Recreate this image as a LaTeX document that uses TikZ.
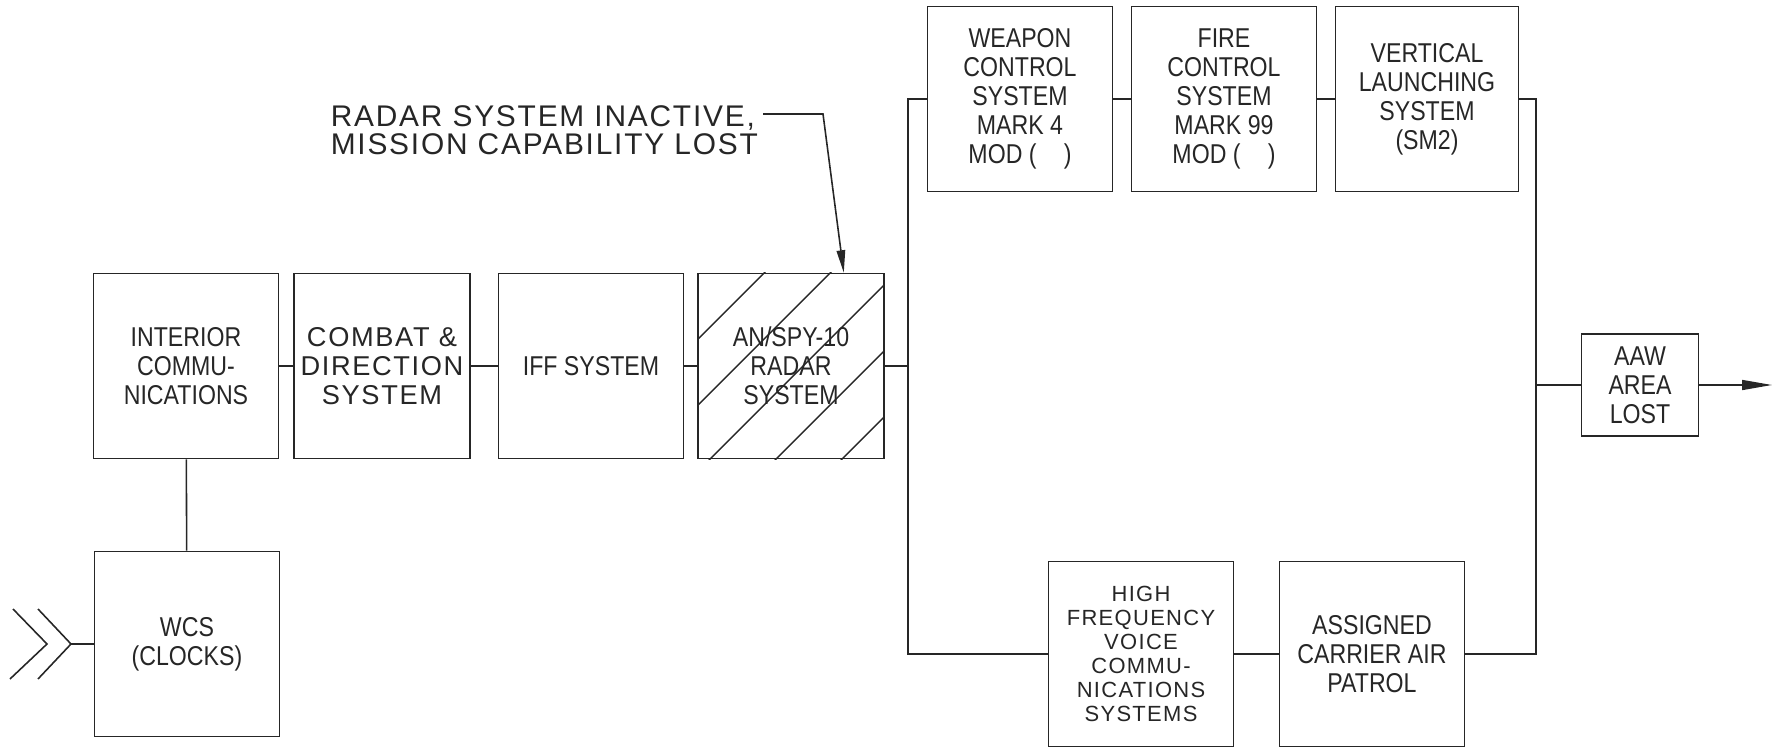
\documentclass[tikz,border=0pt]{standalone}
\usepackage{fontspec}
\setmainfont{Liberation Sans}[FakeStretch=0.85]
\newfontfamily\widefont{Liberation Sans}[LetterSpace=6]
\usetikzlibrary{arrows.meta}

\begin{document}
\begin{tikzpicture}[x=0.02cm, y=-0.02cm, line width=0.9pt, black!85,
  box/.style={draw, minimum width=3.7cm, minimum height=3.7cm, align=center, inner sep=2pt, font=\fontsize{15.5}{16.5}\selectfont},
  widebox/.style={box, font=\widefont\fontsize{15.5}{16.5}\selectfont},
  smallbox/.style={box, font=\widefont\fontsize{12.5}{13.6}\selectfont},
  note/.style={align=left, inner sep=0pt, font=\widefont\fontsize{17}{16}\selectfont},
  hatch/.style={line width=0.8pt},
  flow/.style={-{Triangle[length=0.6cm, width=0.2cm]}},
  pointer/.style={-{Triangle[length=0.45cm, width=0.17cm]}}
]
\useasboundingbox (0,0) rectangle (1775,753);

% main chain
\node[box] (interior) at (186,366) {INTERIOR\\COMMU-\\NICATIONS};
\node[widebox, minimum width=3.52cm] (combat) at (382,366) {COMBAT \&\\DIRECTION\\SYSTEM};
\node[box] (iff) at (591,366) {IFF SYSTEM};
\node[box, minimum width=3.72cm] (radar) at (791,366) {AN/SPY-10\\RADAR\\SYSTEM};
\node[box] (wcs) at (187,644) {WCS\\(CLOCKS)};

% weapon branch
\node[box] (weapon) at (1020,99) {WEAPON\\CONTROL\\SYSTEM\\MARK 4\\MOD (\quad)};
\node[box] (fire) at (1224,99) {FIRE\\CONTROL\\SYSTEM\\MARK 99\\MOD (\quad)};
\node[box, minimum width=3.66cm] (vls) at (1427,99) {VERTICAL\\LAUNCHING\\SYSTEM\\(SM2)};

% voice branch
\node[smallbox] (hf) at (1141,654) {HIGH\\FREQUENCY\\VOICE\\COMMU-\\NICATIONS\\SYSTEMS};
\node[box] (acap) at (1372,654) {ASSIGNED\\CARRIER AIR\\PATROL};

\node[box, minimum width=2.34cm, minimum height=2.04cm] (aaw) at (1640,385) {AAW\\AREA\\LOST};

\node[note, anchor=north west] (note) at (330,105) {RADAR SYSTEM INACTIVE,\\MISSION CAPABILITY LOST};

% hatching of the lost radar
\begin{scope}
  \clip (radar.south west) rectangle (radar.north east);
  \foreach \c in {1037,1103,1169,1235,1301}
    \draw[hatch] (\c-480,480) -- (\c-260,260);
\end{scope}

\coordinate (feed) at (71,644);
\coordinate (lbus) at (908,366);
\coordinate (rbus) at (1536,385);
\coordinate (out) at (1772,385);
\coordinate (lead) at (763,114);
\coordinate (bend) at (823,114);
\coordinate (tip) at ([xshift=-0.82cm]radar.north east);

% input chevrons
\draw (13,609) -- (47,644) -- (10,679);
\draw (38,609) -- (feed) -- (38,679);

\draw (feed) -- (wcs);
\draw (wcs) -- (interior);
\draw (interior) -- (combat);
\draw (combat) -- (iff);
\draw (iff) -- (radar);
\draw (radar) -- (lbus);
\draw (weapon.west) -| (lbus) |- (hf.west);
\draw (weapon) -- (fire);
\draw (fire) -- (vls);
\draw (hf) -- (acap);
\draw (vls.east) -| (rbus) |- (acap.east);
\draw (rbus) -- (aaw);
\draw[flow] (aaw) -- (out);
\draw[pointer] (lead) -- (bend) -- (tip);

\end{tikzpicture}
\end{document}
